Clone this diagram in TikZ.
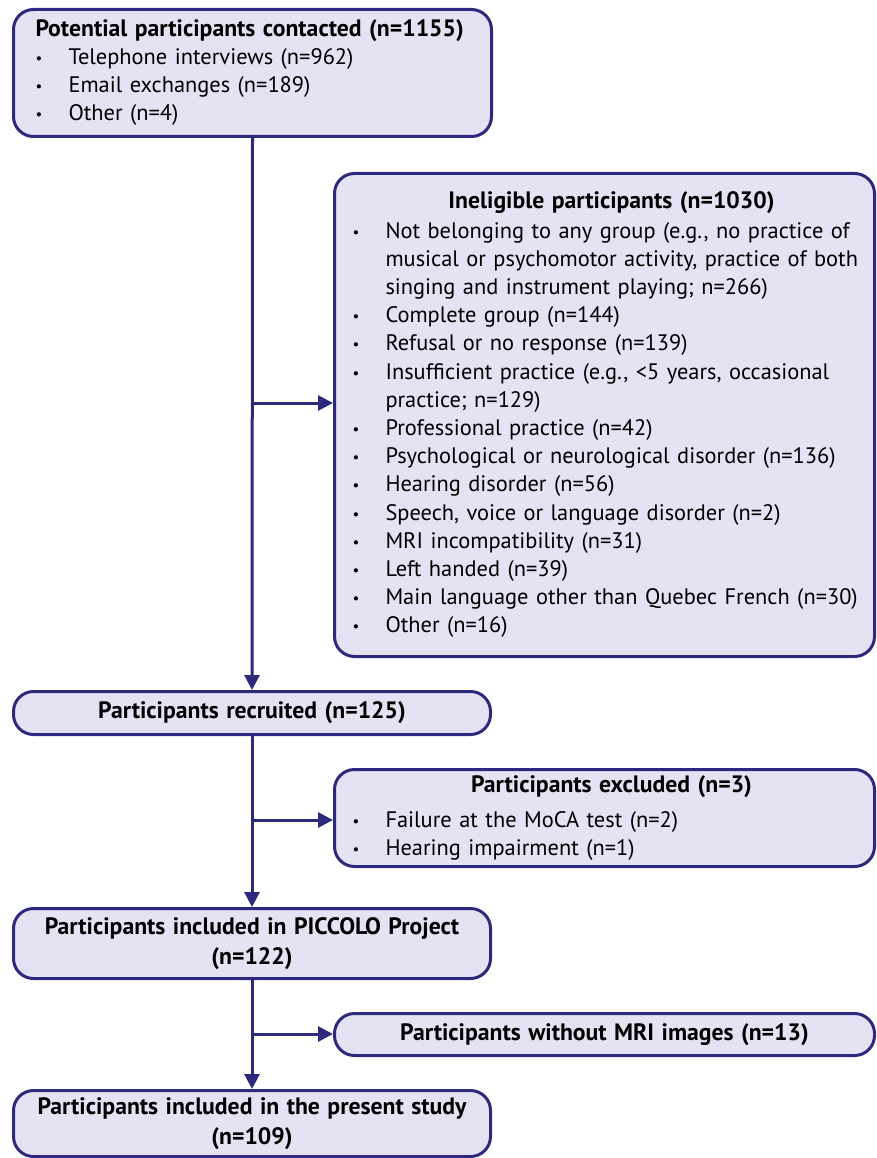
\documentclass[tikz,border=0pt]{standalone}
\usepackage{fontspec}
\setmainfont{PT Sans}
\usetikzlibrary{arrows.meta}
\definecolor{navy}{RGB}{45,41,125}
\definecolor{lav}{RGB}{229,227,243}
\newcommand\hb[1]{{\fontsize{23.7}{28}\selectfont\bfseries #1}}
\newcommand\bitem[1]{\par\hangindent=33pt\hangafter=1\noindent\makebox[33pt][l]{\raisebox{1pt}{\fontsize{15}{15}\selectfont•}}#1}
\newcommand\chead[1]{\noindent\makebox[\linewidth][c]{\hspace*{14pt}\hb{#1}}\par}
\tikzset{
  box/.style={draw=navy, fill=lav, line width=3pt, rounded corners=20pt, anchor=north west,
    font=\fontsize{22.4}{28}\selectfont, inner ysep=0pt},
  wbox/.style={box, inner xsep=5pt, text width=530pt, align=left},
  arr/.style={draw=navy, line width=3pt, -{Triangle[length=15pt,width=15pt]}}
}
\begin{document}
\begin{tikzpicture}[x=1pt,y=-1pt]
\useasboundingbox (0,0) rectangle (876,1158);
\node[box, inner xsep=22pt, text width=434pt, minimum height=127pt, align=left] (A) at (12,8)
 {\hb{Potential participants contacted (n=1155)}
  \bitem{Telephone interviews (n=962)}
  \bitem{Email exchanges (n=189)}
  \bitem{Other (n=4)}};
\node[wbox, minimum height=483pt, font=\fontsize{22.4}{28.2}\selectfont] (B) at (333,172)
 {\chead{Ineligible participants (n=1030)}\vspace{1pt}\raggedright\leftskip=13pt
  \bitem{Not belonging to any group (e.g., no practice of\newline musical or psychomotor activity, practice of both\newline singing and instrument playing; n=266)}
  \bitem{Complete group (n=144)}
  \bitem{Refusal or no response (n=139)}
  \bitem{Insufficient practice (e.g., {<}5 years, occasional\newline practice; n=129)}
  \bitem{Professional practice (n=42)}
  \bitem{Psychological or neurological disorder (n=136)}
  \bitem{Hearing disorder (n=56)}
  \bitem{Speech, voice or language disorder (n=2)}
  \bitem{MRI incompatibility (n=31)}
  \bitem{Left handed (n=39)}
  \bitem{Main language other than Quebec French (n=30)}
  \bitem{Other (n=16)}\par\vspace{14pt}};
\node[box, inner xsep=0pt, text width=477pt, minimum height=43pt, align=center] (C) at (12,690)
 {\hb{Participants recruited (n=125)}};
\node[wbox, minimum height=97pt] (D) at (333,768)
 {\vspace*{7pt}\chead{Participants excluded (n=3)}\raggedright\leftskip=13pt
  \bitem{Failure at the MoCA test (n=2)}
  \bitem{Hearing impairment (n=1)}\par};
\node[box, inner xsep=0pt, text width=477pt, minimum height=70pt, align=center,
  font=\fontsize{22.4}{30}\selectfont] (E) at (12,907)
 {\hb{Participants included in PICCOLO Project}\\\hb{(n=122)}};
\node[box, inner xsep=0pt, text width=540pt, minimum height=42pt, align=center] (F) at (333,1012)
 {\hb{Participants without MRI images (n=13)}};
\node[box, inner xsep=0pt, text width=477pt, minimum height=66pt, align=center,
  font=\fontsize{22.4}{30}\selectfont] (G) at (12,1089)
 {\hb{Participants included in the present study}\\\hb{(n=109)}};
\coordinate (j1) at (251,403);
\coordinate (j2) at (251,820);
\coordinate (j3) at (251,1034);
\draw[arr] (A.south) -- (C.north);
\draw[arr] (j1) -- (j1 -| B.west);
\draw[arr] (C.south) -- (E.north);
\draw[arr] (j2) -- (j2 -| D.west);
\draw[arr] (E.south) -- (G.north);
\draw[arr] (j3) -- (j3 -| F.west);
\end{tikzpicture}
\end{document}
